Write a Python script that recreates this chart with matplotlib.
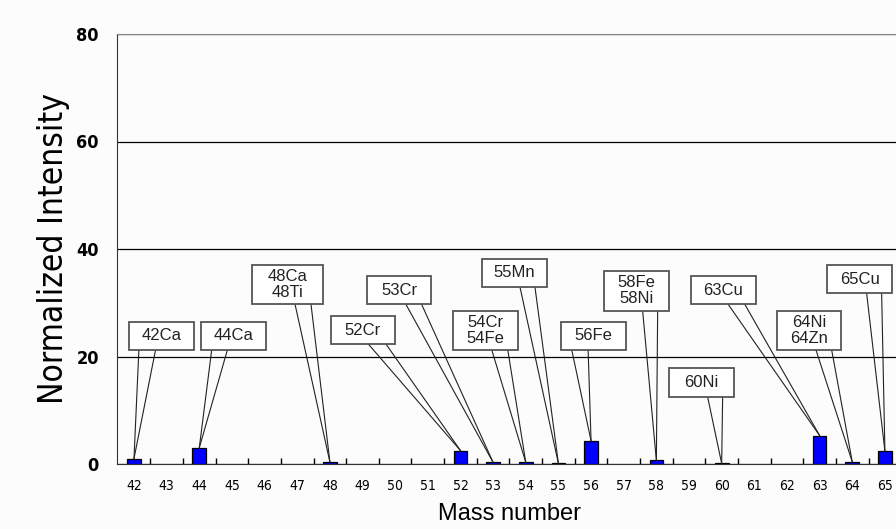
import matplotlib.pyplot as plt
from matplotlib.patches import Rectangle

# data
masses = [42, 44, 48, 52, 53, 54, 55, 56, 58, 60, 63, 64, 65]
intensity = [1.0, 3.0, 0.4, 2.5, 0.3, 0.3, 0.1, 4.3, 0.7, 0.1, 5.3, 0.4, 2.4]
labels = ["42Ca", "44Ca", "48Ca\n48Ti", "52Cr", "53Cr", "54Cr\n54Fe", "55Mn",
          "56Fe", "58Fe\n58Ni", "60Ni", "63Cu", "64Ni\n64Zn", "65Cu"]
tick_vals = list(range(42, 66))
ytick_vals = [0, 20, 40, 60, 80]

# callout layout (data coords): box left, bottom, width, height, leg x1, leg x2
boxes = [
    (41.86, 21.2, 1.98, 5.3, 42.15, 42.66),
    (44.05, 21.2, 1.98, 5.3, 44.38, 44.86),
    (45.60, 29.8, 2.20, 7.3, 46.93, 47.42),
    (48.02, 22.3, 1.98, 5.2, 49.18, 49.72),
    (49.13, 29.7, 1.98, 5.3, 50.33, 50.81),
    (51.78, 21.2, 1.97, 7.3, 52.96, 53.45),
    (52.66, 33.0, 1.98, 5.1, 53.82, 54.28),
    (55.07, 21.2, 1.99, 5.3, 55.41, 55.91),
    (56.40, 28.5, 1.99, 7.5, 57.58, 58.04),
    (58.38, 12.5, 2.00, 5.4, 59.57, 60.03),
    (59.05, 29.7, 2.00, 5.3, 60.20, 60.71),
    (61.68, 21.2, 1.99, 7.3, 62.89, 63.37),
    (63.23, 31.8, 1.99, 5.2, 64.44, 64.90),
]

bg = "#fbfcfb"
narrow = dict(family="DejaVu Sans", fontstretch="condensed")

fig = plt.figure(figsize=(8.96, 5.29), dpi=100, facecolor=bg)
ax = fig.add_axes([117 / 896, 65 / 529, 779 / 896, 430 / 529])
ax.set_facecolor(bg)

ax.bar(masses, intensity, width=0.42, color="#0000ff", edgecolor="black",
       linewidth=0.9, zorder=3)

# callouts
for m, v, lab, (bx, by, bw, bh, l1, l2) in zip(masses, intensity, labels, boxes):
    ax.plot([l1, m], [by, v], color="#222222", lw=0.8, zorder=4)
    ax.plot([l2, m], [by, v], color="#222222", lw=0.8, zorder=4)
    ax.add_patch(Rectangle((bx, by), bw, bh, facecolor="white",
                           edgecolor="#555555", lw=1.3, zorder=5))
    ax.text(bx + bw / 2, by + bh / 2, lab, ha="center", va="center",
            fontsize=12, family="Liberation Sans", linespacing=1.1,
            color="#222222", zorder=6)

ax.set_xlim(41.48, 65.34)
ax.set_ylim(0, 80)
ax.set_yticks(ytick_vals)
ax.set_yticklabels([str(t) for t in ytick_vals], fontsize=13, fontweight="bold",
                   **narrow)
ax.tick_params(axis="y", length=0, pad=13)
ax.set_xticks(tick_vals)
ax.set_xticklabels([str(t) for t in tick_vals], fontsize=10, **narrow)
ax.set_xticks([t + 0.5 for t in tick_vals[:-1]], minor=True)
ax.tick_params(axis="x", which="major", length=0, pad=11)
ax.tick_params(axis="x", which="minor", direction="in", length=4, width=1)

ax.grid(axis="y", color="black", lw=0.9)
ax.spines["right"].set_visible(False)
ax.spines["top"].set_color("#888888")
ax.spines["left"].set_color("#333333")
ax.spines["bottom"].set_color("#333333")

ax.set_ylabel("Normalized Intensity", fontsize=24, **narrow)
ax.yaxis.set_label_coords(-(117 - 53) / 779, (464 - 249) / 430)
ax.set_xlabel("Mass number", fontsize=17, family="Liberation Sans")
ax.xaxis.set_label_coords((509 - 117) / 779, -(514 - 464) / 430)
ax.xaxis.label.set_va("center")
ax.yaxis.label.set_va("center")

plt.savefig("out.png", dpi=100, facecolor=bg)
